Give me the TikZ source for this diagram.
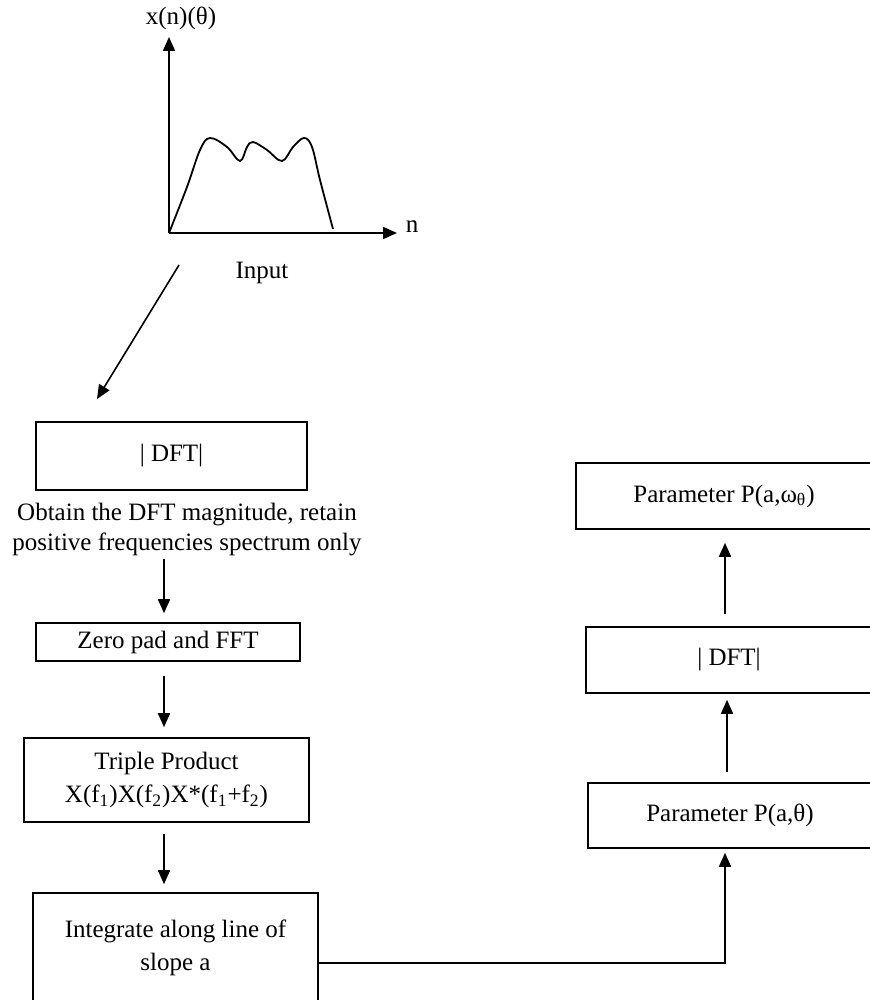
\documentclass[tikz,border=0pt]{standalone}
\usepackage{fontspec}
\setmainfont{Liberation Serif}
\usetikzlibrary{arrows.meta,positioning,calc}

\begin{document}
\begin{tikzpicture}[x=0.5pt,y=-0.5pt,
  every node/.style={font=\fontsize{12.5}{16.5}\selectfont},
  bx/.style={draw,line width=0.8pt,align=center,inner sep=0pt},
  arr/.style={line width=0.8pt,-{Triangle[length=7pt,width=6pt]}}]
\useasboundingbox (0,0) rectangle (869,1000);
% input signal
\coordinate (o) at (169,233);
\coordinate (ytip) at (169,37);
\coordinate (xtip) at (397,233);
\draw[arr,line width=1pt] (o) -- (ytip);
\draw[arr,line width=1pt] (o) -- (xtip);
\node (ylab) at (181,18) {x(n)(θ)};
\node (nlab) at (412,227) {n};
\node (inp) at (262,273) {Input};
\draw[line width=0.9pt] plot[smooth,tension=0.6] coordinates {(169,233) (187,187) (200,150)
  (210,138) (227,147) (240,161) (247,147) (253,142) (267,150) (282,161) (293,147)
  (304,138) (312,147) (320,180) (333,229)};
\coordinate (d0) at (179,265);
\coordinate (d1) at (97,399);
\draw[arr] (d0) -- (d1);

% left column
\node[bx,minimum width=135.5pt,minimum height=34pt] (dft) at (171.5,456) {| DFT|};
\node[align=center,inner sep=0pt,font=\fontsize{12.5}{15}\selectfont] (cap) at (187,530)
  {Obtain the DFT magnitude, retain\\positive frequencies spectrum only};
\node[bx,minimum width=132pt,minimum height=19pt] (zero) at (168,642) {Zero pad and FFT};
\node[bx,minimum width=142.5pt,minimum height=42pt] (trip) at (166.5,780)
  {Triple Product\\X(f\textsubscript{1})X(f\textsubscript{2})X*(f\textsubscript{1}+f\textsubscript{2})};
\node[bx,minimum width=142.5pt,minimum height=55pt] (integ) at (175.5,948)
  {Integrate along line of\\slope a};

% right column
\node[bx,minimum width=148pt,minimum height=33pt] (pw) at (724,496) {Parameter P(a,ω\textsubscript{θ})};
\node[bx,minimum width=143pt,minimum height=33pt] (dft2) at (729,660) {| DFT|};
\node[bx,minimum width=142pt,minimum height=32.5pt] (pth) at (730,815.5) {Parameter P(a,θ)};

\draw[arr] ($(cap.south)+(-23,2)$) -- ($(zero.north)+(-4,-9)$);
\draw[arr] ($(zero.south)+(-4,14)$) -- ($(trip.north)+(-2.5,-10)$);
\draw[arr] ($(trip.south)+(-2.5,11)$) -- ($(integ.north)+(-11.5,-8)$);
\draw[arr] ($(integ.east)+(0,15)$) -| ($(pth.south)+(-5,4)$);
\draw[arr] ($(pth.north)+(-3,-10)$) -- ($(dft2.south)+(-2,6)$);
\draw[arr] ($(dft2.north)+(-4,-12)$) -- ($(pw.south)+(1,13)$);
\end{tikzpicture}
\end{document}
